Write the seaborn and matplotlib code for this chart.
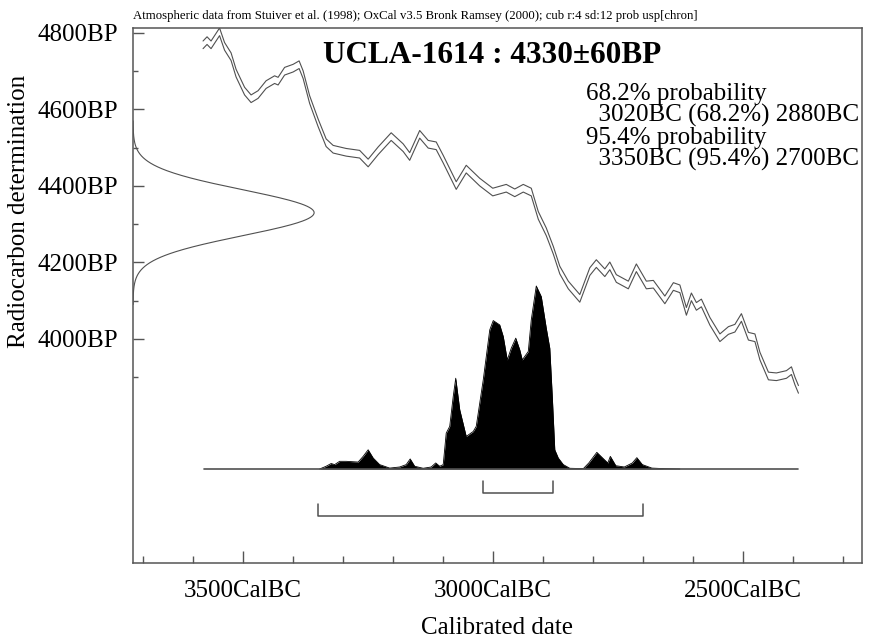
import matplotlib
matplotlib.use('Agg')
import matplotlib.pyplot as plt
import seaborn as sns
import numpy as np
import pandas as pd

# calibration curve mid-line (cal BC vs BP)
CURVE_BC = [3579, 3571, 3563, 3546, 3536, 3523, 3513, 3496, 3483, 3469,
            3453, 3436, 3429, 3416, 3399, 3387, 3379, 3366, 3349, 3333,
            3319, 3293, 3266, 3249, 3229, 3203, 3179, 3166, 3146, 3129,
            3113, 3099, 3073, 3053, 3026, 3000, 2973, 2956, 2939, 2923,
            2909, 2893, 2879, 2866, 2849, 2826, 2806, 2793, 2776, 2766,
            2753, 2729, 2713, 2693, 2679, 2656, 2639, 2626, 2613, 2603,
            2593, 2583, 2566, 2546, 2529, 2516, 2503, 2489, 2476, 2466,
            2449, 2433, 2413, 2403, 2396, 2389]
CURVE_BP = [4769, 4780, 4769, 4803, 4765, 4738, 4695, 4648, 4628, 4639,
            4665, 4678, 4674, 4700, 4708, 4717, 4691, 4626, 4565, 4513,
            4496, 4488, 4483, 4460, 4492, 4529, 4500, 4477, 4535, 4509,
            4505, 4470, 4401, 4444, 4410, 4384, 4394, 4382, 4394, 4384,
            4323, 4280, 4232, 4180, 4141, 4106, 4176, 4197, 4173, 4191,
            4158, 4141, 4186, 4141, 4143, 4102, 4137, 4131, 4072, 4110,
            4085, 4094, 4046, 4003, 4022, 4028, 4056, 4007, 4003, 3955,
            3903, 3901, 3907, 3917, 3890, 3868]
CURVE_HALF_WIDTH = 10

# the measurement
SAMPLE = 'UCLA-1614'
MEAN_BP = 4330
SD_BP = 60

# calibrated date distribution (relative probability)
PROB_BC = [3346, 3333, 3323, 3316, 3306, 3293, 3269, 3259, 3249, 3239,
           3226, 3206, 3186, 3173, 3165, 3156, 3139, 3123, 3114, 3106,
           3099, 3093, 3086, 3079, 3074, 3066, 3053, 3039, 3033, 3019,
           3006, 2999, 2986, 2979, 2971, 2963, 2954, 2946, 2941, 2929,
           2923, 2913, 2903, 2893, 2886, 2881, 2876, 2869, 2859, 2846,
           2819, 2808, 2792, 2777, 2770, 2765, 2754, 2737, 2721, 2712,
           2701, 2682, 2658, 2626]
PROB_REL = [0, 0.015, 0.03, 0.024, 0.042, 0.042, 0.038, 0.069, 0.105, 0.06,
            0.024, 0.005, 0.011, 0.024, 0.055, 0.015, 0.004, 0.011, 0.033, 0.015,
            0.024, 0.196, 0.233, 0.396, 0.496, 0.324, 0.178, 0.205, 0.233, 0.487,
            0.76, 0.811, 0.787, 0.724, 0.596, 0.66, 0.715, 0.651, 0.596, 0.642,
            0.815, 1.0, 0.942, 0.769, 0.66, 0.396, 0.105, 0.06, 0.024, 0.004,
            0.002, 0.033, 0.091, 0.051, 0.033, 0.069, 0.018, 0.011, 0.033, 0.062,
            0.024, 0.005, 0.002, 0]
BASELINE_BC = (3578, 2390)

RANGE_68 = (3020, 2880)
RANGE_95 = (3350, 2700)
PROB_LINES = ['68.2% probability',
              '  3020BC (68.2%) 2880BC',
              '95.4% probability',
              '  3350BC (95.4%) 2700BC']

X_MAJOR = [3500, 3000, 2500]
X_MINOR = [3700, 3600, 3400, 3300, 3200, 3100, 2900, 2800, 2700, 2600, 2400, 2300]
Y_MAJOR = [4000, 4200, 4400, 4600, 4800]
Y_MINOR = [3900, 4100, 4300, 4500, 4700]

HEADER = ('Atmospheric data from Stuiver et al. (1998); OxCal v3.5 Bronk Ramsey (2000); '
          'cub r:4 sd:12 prob usp[chron]')

sns.set_theme(style='white')
plt.rcParams['font.family'] = ['Liberation Serif', 'DejaVu Serif']

W, H = 872, 640
fig = plt.figure(figsize=(W / 100, H / 100), dpi=100)
L, R, T, B = 133, 862, 28, 563
ax = fig.add_axes([L / W, 1 - B / H, (R - L) / W, (B - T) / H])
XMIN, XMAX = -3719, -2262
ax.set_xlim(XMIN, XMAX)
ax.set_ylim(3414, 4813)

LINE = '#505050'

# calibration curve: two lines (+/- 1 sd)
curve = pd.DataFrame({'x': -np.array(CURVE_BC), 'bp': CURVE_BP})
sns.lineplot(data=curve, x='x', y=curve['bp'] + CURVE_HALF_WIDTH, estimator=None, sort=False,
             color=LINE, lw=0.8, ax=ax)
sns.lineplot(data=curve, x='x', y=curve['bp'] - CURVE_HALF_WIDTH, estimator=None, sort=False,
             color=LINE, lw=0.8, ax=ax)

# radiocarbon measurement as normal curve on the y axis
g_bp = np.linspace(MEAN_BP - 4 * SD_BP, MEAN_BP + 4 * SD_BP, 300)
g_w = np.exp(-0.5 * ((g_bp - MEAN_BP) / SD_BP) ** 2)
gauss = pd.DataFrame({'x': XMIN + 362 * g_w, 'bp': g_bp})
sns.lineplot(data=gauss, x='x', y='bp', orient='y', estimator=None, sort=False,
             color=LINE, lw=0.8, ax=ax)

# calibrated distribution on an overlay sharing x
ax2 = ax.twinx()
ax2.set_ylim(-0.5136, 2.4095)
ax2.axis('off')
prob = pd.DataFrame({'x': -np.array(PROB_BC), 'p': PROB_REL})
ax2.fill_between(prob['x'], 0, prob['p'], color='black', lw=0)
sns.lineplot(data=prob, x='x', y='p', estimator=None, sort=False, color='black', lw=0.6, ax=ax2)
ax2.plot([-BASELINE_BC[0], -BASELINE_BC[1]], [0, 0], color=LINE, lw=1.2)

# range brackets
for (a, b), yv in [(RANGE_68, -0.131), (RANGE_95, -0.2567)]:
    ax2.plot([-a, -a, -b, -b], [yv + 0.0656, yv, yv, yv + 0.0656], color=LINE, lw=1.1)

# axes styling
ax.set_xticks([-v for v in X_MAJOR])
ax.set_xticklabels([f'{v}CalBC' for v in X_MAJOR])
ax.set_xticks([-v for v in X_MINOR], minor=True)
ax.set_yticks(Y_MAJOR)
ax.set_yticklabels([f'{v}BP' for v in Y_MAJOR])
ax.set_yticks(Y_MINOR, minor=True)
ax.tick_params(axis='both', which='both', direction='in', color='#555555', width=1.0,
               labelsize=18, labelcolor='black')
ax.tick_params(axis='x', which='major', length=9, pad=12)
ax.tick_params(axis='x', which='minor', length=4.8)
ax.tick_params(axis='y', which='major', length=7.7, pad=10.5)
ax.tick_params(axis='y', which='minor', length=3.4)
ax.tick_params(bottom=True, left=True, top=False, right=False, which='both')
for s in ax.spines.values():
    s.set_visible(True)
    s.set_color('#555555')
    s.set_linewidth(1.1)
ax.set_xlabel('')
ax.set_ylabel('')
ax.grid(False)


def px(x, y):
    return x / W, 1 - y / H


fig.text(*px(133, 19), HEADER, fontsize=9.2, va='baseline', ha='left', color='black')
fig.text(*px(323, 63), f'{SAMPLE} : {MEAN_BP}\u00b1{SD_BP}BP', fontsize=22.5,
         fontweight='bold', va='baseline', ha='left', color='black')
for i, line in enumerate(PROB_LINES):
    fig.text(*px(586, 100 + 22 * i), line, fontsize=18, va='baseline', ha='left', color='black')

fig.text(*px(19, 211), 'Radiocarbon determination', rotation=90, fontsize=18,
         va='center', ha='center', color='black')
fig.text(*px(497, 628), 'Calibrated date', fontsize=18, va='center', ha='center', color='black')

fig.savefig('out.png', dpi=100)
